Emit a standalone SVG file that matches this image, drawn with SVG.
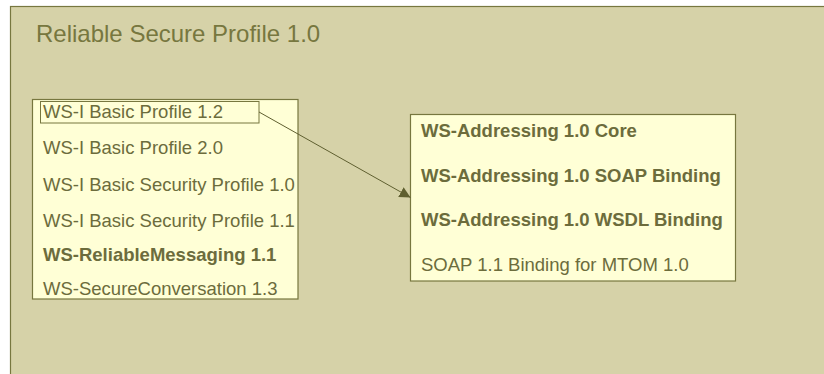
<svg xmlns="http://www.w3.org/2000/svg" width="824" height="374" viewBox="0 0 824 374">
<style>
.frame{fill:#D6D2A8;stroke:#77773F;stroke-width:1.2}
.box{fill:#FFFFD6;stroke:#77773F;stroke-width:1.2}
.hl{fill:none;stroke:#77773F;stroke-width:1}
text{font-family:"Liberation Sans",Arial,sans-serif;fill:#6C6C3C;font-size:18.5px}
.title{font-size:24px;fill:#77773F}
.b{font-weight:bold}
.conn{stroke:#5F5F30;stroke-width:1;fill:none}
</style>
<defs>
<marker id="arr" viewBox="0 0 10 10" refX="10" refY="5" markerWidth="11" markerHeight="11" markerUnits="userSpaceOnUse" orient="auto">
<path d="M0,0 L10,5 L0,10 Z" fill="#5F5F30"/>
</marker>
</defs>
<rect width="824" height="374" fill="#FFFFFF"/>
<g id="rsp">
<rect class="frame" x="10.5" y="6.5" width="830" height="380"/>
<text class="title" x="36" y="42">Reliable Secure Profile 1.0</text>
</g>
<g id="left">
<rect class="box" x="32.5" y="99.5" width="265.5" height="199.5"/>
<g id="bp12">
<rect class="hl" x="40.5" y="101.5" width="218.5" height="21.5"/>
<text x="43" y="118">WS-I Basic Profile 1.2</text>
</g>
<text x="43" y="154">WS-I Basic Profile 2.0</text>
<text x="43" y="191">WS-I Basic Security Profile 1.0</text>
<text x="43" y="227">WS-I Basic Security Profile 1.1</text>
<text class="b" x="43" y="261">WS-ReliableMessaging 1.1</text>
<text x="43" y="295">WS-SecureConversation 1.3</text>
</g>
<g id="right">
<rect class="box" x="410.5" y="114.5" width="325" height="166.5"/>
<text class="b" x="421" y="137">WS-Addressing 1.0 Core</text>
<text class="b" x="421" y="181.5">WS-Addressing 1.0 SOAP Binding</text>
<text class="b" x="421" y="225.5">WS-Addressing 1.0 WSDL Binding</text>
<text x="421" y="271">SOAP 1.1 Binding for MTOM 1.0</text>
</g>
<g id="connectors">
<path class="conn" d="M259,112 L410.5,197.5" marker-end="url(#arr)"/>
</g>
</svg>
